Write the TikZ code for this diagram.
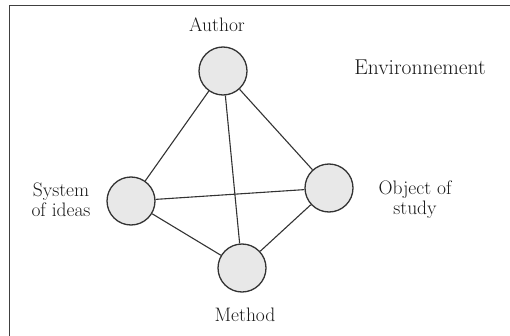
\documentclass[tikz,border=0pt]{standalone}
\begin{document}
\begin{tikzpicture}[x=1pt,y=1pt,
  ball/.style={circle,draw=black!80,line width=1.3pt,fill=black!9,minimum size=48pt,inner sep=0pt},
  lab/.style={font=\fontsize{19.5}{20}\selectfont,align=center,text=black!90},
  link/.style={draw=black!80,line width=1.1pt}]
\useasboundingbox (0,0) rectangle (510,335);
\draw[black!75,line width=1.3pt] (9.5,-10) -- (9.5,329.5) -- (520,329.5);
\node[ball] (author) at (223,264) {};
\node[ball] (system) at (131,134) {};
\node[ball] (object) at (329,147) {};
\node[ball] (method) at (242,67) {};
\draw[link] (author) -- (system);
\draw[link] (author) -- (object);
\draw[link] (author) -- (method);
\draw[link] (system) -- (object);
\draw[link] (system) -- (method);
\draw[link] (method) -- (object);
\node[lab] (tauthor) at (217,310) {Author};
\node[lab,font=\fontsize{21.5}{22}\selectfont] (tenv) at (420,268) {Environnement};
\node[lab] (tsystem) at (61,135) {System\\of ideas};
\node[lab] (tobject) at (415,135) {Object of\\study};
\node[lab] (tmethod) at (245,20) {Method};
\end{tikzpicture}
\end{document}
